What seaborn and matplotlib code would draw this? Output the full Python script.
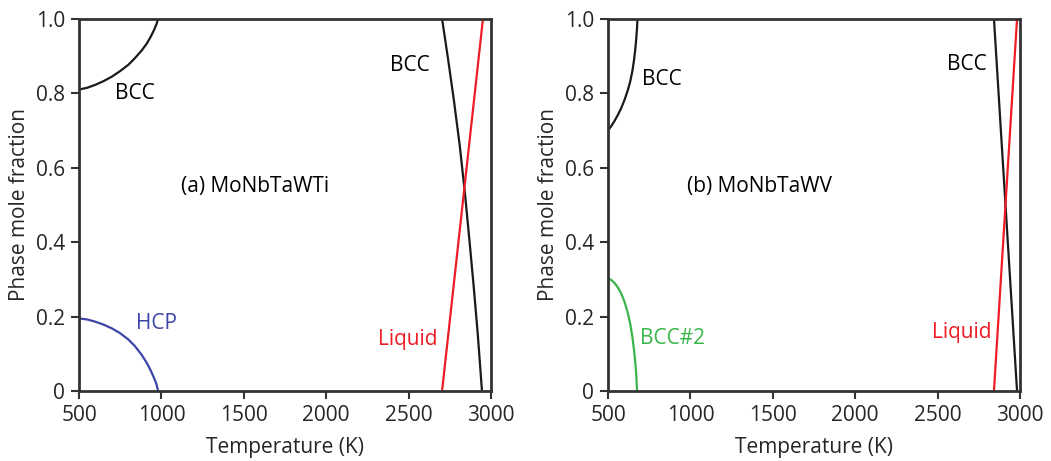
import numpy as np
import pandas as pd
import matplotlib
matplotlib.use("Agg")
import matplotlib.pyplot as plt
import seaborn as sns

# (a) MoNbTaWTi
a_bcc_low_T = [500, 550, 600, 650, 700, 750, 800, 840, 880, 910, 935, 955, 970, 980]
a_bcc_low_f = [0.81, 0.815, 0.823, 0.833, 0.845, 0.86, 0.877, 0.895, 0.915, 0.933, 0.952, 0.97, 0.986, 1.0]
a_hcp_T = [500, 550, 600, 650, 700, 750, 800, 840, 880, 910, 935, 955, 970, 980]
a_hcp_f = [0.195, 0.192, 0.186, 0.178, 0.168, 0.155, 0.138, 0.12, 0.097, 0.076, 0.055, 0.035, 0.018, 0.0]
a_bcc_high_T = [2703, 2740, 2775, 2810, 2842, 2870, 2895, 2920, 2945]
a_bcc_high_f = [1.0, 0.89, 0.78, 0.66, 0.53, 0.40, 0.28, 0.15, 0.0]
a_liq_T = [2703, 2951]
a_liq_f = [0.0, 1.0]

# (b) MoNbTaWV
b_bcc_low_T = [500, 520, 540, 560, 580, 600, 620, 635, 648, 658, 666, 672, 676, 679]
b_bcc_low_f = [0.70, 0.712, 0.726, 0.742, 0.76, 0.782, 0.808, 0.832, 0.86, 0.89, 0.92, 0.95, 0.975, 1.0]
b_bcc2_T = [500, 520, 540, 560, 580, 600, 620, 635, 648, 658, 666, 672, 676]
b_bcc2_f = [0.303, 0.298, 0.29, 0.278, 0.262, 0.24, 0.21, 0.18, 0.145, 0.11, 0.075, 0.04, 0.0]
b_bcc_high_T = [2842, 2982]
b_bcc_high_f = [1.0, 0.0]
b_liq_T = [2842, 2982]
b_liq_f = [0.0, 1.0]

x_ticks = [500, 1000, 1500, 2000, 2500, 3000]
y_ticks = [0, 0.2, 0.4, 0.6, 0.8, 1.0]
y_tick_labels = ["0", "0.2", "0.4", "0.6", "0.8", "1.0"]

BLACK = "#1a1a1a"
RED = "#ed1c24"
BLUE = "#3c44a8"
GREEN = "#39b54a"

sns.set_theme(style="white")
plt.rcParams["font.family"] = ["Open Sans", "DejaVu Sans"]
plt.rcParams["font.size"] = 15

fig = plt.figure(figsize=(10.51, 4.61), dpi=100)
ax1 = fig.add_axes([0.0752, 0.152, 0.392, 0.807])
ax2 = fig.add_axes([0.5785, 0.152, 0.392, 0.807])


def curve(ax, T, f, color):
    df = pd.DataFrame({"T": T, "f": f})
    sns.lineplot(data=df, x="T", y="f", ax=ax, color=color, lw=1.6, sort=False)


curve(ax1, a_bcc_low_T, a_bcc_low_f, BLACK)
curve(ax1, a_hcp_T, a_hcp_f, BLUE)
curve(ax1, a_bcc_high_T, a_bcc_high_f, BLACK)
curve(ax1, a_liq_T, a_liq_f, RED)

curve(ax2, b_bcc_low_T, b_bcc_low_f, BLACK)
curve(ax2, b_bcc2_T, b_bcc2_f, GREEN)
curve(ax2, b_bcc_high_T, b_bcc_high_f, BLACK)
curve(ax2, b_liq_T, b_liq_f, RED)

# labels
ax1.text(840, 0.80, "BCC", ha="center", va="center", color="black")
ax1.text(973, 0.18, "HCP", ha="center", va="center", color=BLUE)
ax1.text(2508, 0.876, "BCC", ha="center", va="center", color="black")
ax1.text(2497, 0.137, "Liquid", ha="center", va="center", color=RED)
ax1.text(1568, 0.55, "(a) MoNbTaWTi", ha="center", va="center", color="black")

ax2.text(828, 0.836, "BCC", ha="center", va="center", color="black")
ax2.text(894, 0.14, "BCC#2", ha="center", va="center", color=GREEN)
ax2.text(2678, 0.877, "BCC", ha="center", va="center", color="black")
ax2.text(2648, 0.158, "Liquid", ha="center", va="center", color=RED)
ax2.text(1422, 0.55, "(b) MoNbTaWV", ha="center", va="center", color="black")

for ax in (ax1, ax2):
    ax.set_xlim(500, 3000)
    ax.set_ylim(0, 1.0)
    ax.set_xticks(x_ticks)
    ax.set_yticks(y_ticks)
    ax.set_yticklabels(y_tick_labels)
    ax.set_xlabel("Temperature (K)", fontsize=15, labelpad=8)
    ax.set_ylabel("Phase mole fraction", fontsize=15, labelpad=4)
    ax.tick_params(axis="both", direction="out", length=6, width=1.5,
                   color="#333333", labelsize=15, pad=4,
                   bottom=True, left=True, top=False, right=False)
    for s in ax.spines.values():
        s.set_color("#333333")
        s.set_linewidth(2)

fig.savefig("out.png", dpi=100)
